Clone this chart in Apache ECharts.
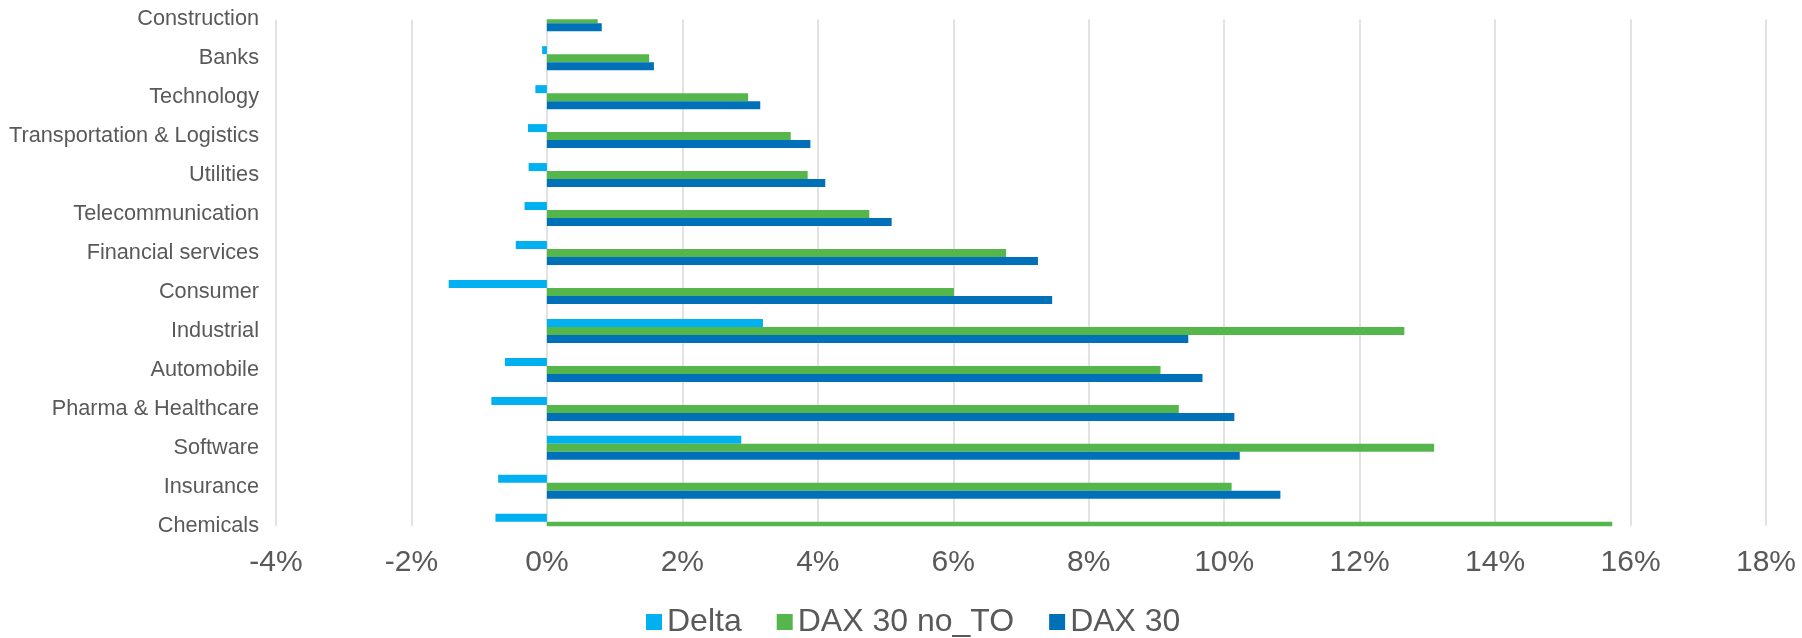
<!DOCTYPE html>
<html>
<head>
<meta charset="utf-8">
<script src="https://cdn.jsdelivr.net/npm/echarts@6/dist/echarts.min.js"></script>
<style>
html,body{margin:0;padding:0;background:#fff;}
#chart{width:1802px;height:638px;}
</style>
</head>
<body>
<div id="chart"></div>
<script>
// categories listed bottom to top
var categories = ["Chemicals","Insurance","Software","Pharma & Healthcare","Automobile","Industrial","Consumer","Financial services","Telecommunication","Utilities","Transportation & Logistics","Technology","Banks","Construction"];
var deltaValues = [-0.76,-0.72,2.87,-0.82,-0.62,3.19,-1.45,-0.46,-0.33,-0.27,-0.28,-0.17,-0.07,-0.06];
var daxNoToValues = [15.73,10.11,13.10,9.33,9.06,12.66,6.01,6.78,4.76,3.85,3.60,2.97,1.51,0.75];
var daxValues = [16.49,10.83,10.23,10.15,9.68,9.47,7.46,7.25,5.09,4.11,3.89,3.15,1.58,0.81];
var seriesNames = ["Delta","DAX 30 no_TO","DAX 30"];
var xTicks = {min:-4, max:18, interval:2};

var W = 1802, H = 638;
var gridTop = 19.2, gridBottom = 112.2, gridLeft = 276, gridRight = 36;

var chart = echarts.init(document.getElementById('chart'), null, {renderer:'canvas'});
var textColor = '#595959';
var font = '"Liberation Sans", Arial, sans-serif';
chart.setOption({
  animation:false,
  backgroundColor:'#ffffff',
  textStyle:{fontFamily:font},
  grid:{left:gridLeft, right:gridRight, top:gridTop, bottom:gridBottom, containLabel:false},
  legend:{
    data:seriesNames,
    left:641, top:601,
    itemWidth:16, itemHeight:16, itemGap:35,
    icon:'rect',
    textStyle:{fontSize:32, color:textColor, fontFamily:font}
  },
  // white masks: the plot area clips the outer category groups (axis "on tick marks")
  graphic:[
    {type:'rect', z:100, silent:true, shape:{x:gridLeft-14, y:0, width:W-gridLeft+14, height:gridTop}, style:{fill:'#ffffff'}},
    {type:'rect', z:100, silent:true, shape:{x:gridLeft-14, y:H-gridBottom+0.5, width:W-gridLeft+14, height:22}, style:{fill:'#ffffff'}}
  ],
  xAxis:{
    type:'value', min:xTicks.min, max:xTicks.max, interval:xTicks.interval,
    axisLine:{show:false}, axisTick:{show:false},
    axisLabel:{formatter:'{value}%', fontSize:30, color:textColor, margin:22, fontFamily:font},
    splitLine:{show:true, lineStyle:{color:'#d9d9d9', width:1.5}}
  },
  yAxis:{
    type:'category', data:categories, boundaryGap:false,
    axisLine:{show:false, onZero:false}, axisTick:{show:false},
    axisLabel:{fontSize:21.7, color:textColor, margin:17, fontFamily:font},
    splitLine:{show:false}
  },
  series:[
    {name:seriesNames[0], type:'bar', data:deltaValues, barWidth:8, barGap:'0%', itemStyle:{color:'#00B0F0'}},
    {name:seriesNames[1], type:'bar', data:daxNoToValues, barWidth:8, barGap:'0%', itemStyle:{color:'#55B74B'}},
    {name:seriesNames[2], type:'bar', data:daxValues, barWidth:8, barGap:'0%', itemStyle:{color:'#0070B8'}}
  ]
});
</script>
</body>
</html>
